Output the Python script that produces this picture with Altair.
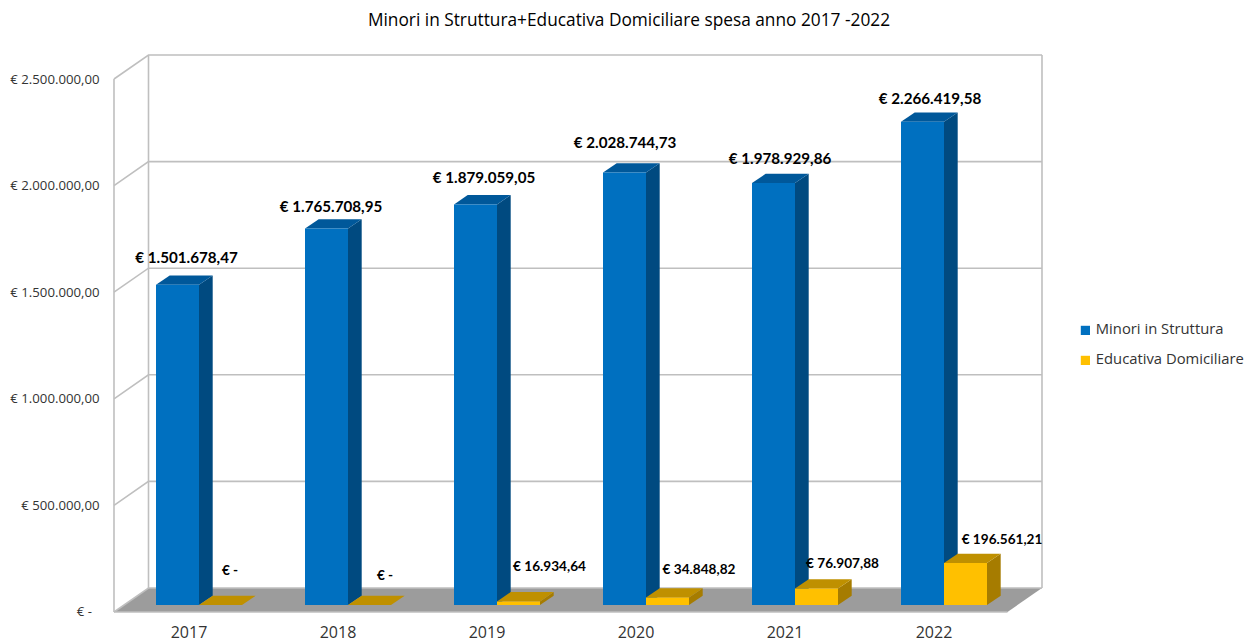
import altair as alt
import pandas as pd

# ---- values
years = ["2017", "2018", "2019", "2020", "2021", "2022"]
minori = [1501678.47, 1765708.95, 1879059.05, 2028744.73, 1978929.86, 2266419.58]
educativa = [0, 0, 16934.64, 34848.82, 76907.88, 196561.21]
minori_labels = ["€ 1.501.678,47", "€ 1.765.708,95", "€ 1.879.059,05",
                 "€ 2.028.744,73", "€ 1.978.929,86", "€ 2.266.419,58"]
educativa_labels = ["€ -", "€ -", "€ 16.934,64", "€ 34.848,82", "€ 76.907,88", "€ 196.561,21"]
y_ticks = [0, 500000, 1000000, 1500000, 2000000, 2500000]
y_tick_labels = ["€ -", "€ 500.000,00", "€ 1.000.000,00",
                 "€ 1.500.000,00", "€ 2.000.000,00", "€ 2.500.000,00"]
series_names = ["Minori in Struttura", "Educativa Domiciliare"]
title_text = "Minori in Struttura+Educativa Domiciliare spesa anno 2017 -2022"

# ---- layout of the fake 3D box (pixels turned into data units)
W, H = 928, 557
STEP = 149.0
PER_PX = 2500000 / 533
def ux(px): return px / STEP
def uy(px): return px * PER_PX
WALL_DX, WALL_DY = ux(34.5), uy(24)
BAR_DX, BAR_DY = ux(13.7), uy(9.3)
BASE = uy(7)
X_MAX, Y_MAX = W / STEP, H * PER_PX
BAR_L, BAR_W = ux(42), ux(43)
# hand-placed data labels in the original (right, up) in pixels
minori_nudge = [(9, 27), (4.5, 21.6), (8.5, 26.4), (0.5, 29.5), (6.5, 24), (7.5, 22.8)]
educ_nudge = [(9.5, 34), (15.5, 29), (31, 34.4), (31.5, 27.6), (26, 24.6), (36.5, 23.1)]

xs = alt.Scale(domain=[0, X_MAX], range=[0, W], nice=False, zero=False)
ys = alt.Scale(domain=[0, Y_MAX], range=[H, 0], nice=False, zero=False)
GRID = "#bfbfbf"
FONT = "Open Sans"

year_expr = "[" + ",".join(f"'{y}'" for y in years) + "][floor(datum.value)]"
# the zero label sits further left in the original, so it gets its own text layer below
ylab_expr = "[''," + ",".join(f"'{t}'" for t in y_tick_labels[1:]) + f"][round(datum.value/{y_ticks[1]})]"
x_axis = alt.Axis(values=[i + 0.5 for i in range(len(years))], labelExpr=year_expr, domain=False, ticks=False,
                  grid=False, labelFontSize=16, labelFont=FONT, labelColor="#333333", labelPadding=12, labelAngle=0)
y_axis = alt.Axis(values=y_ticks, labelExpr=ylab_expr, domain=False, ticks=False, grid=False,
                  labelFontSize=13.2, labelFont=FONT, labelColor="#333333", labelPadding=15)

def X(f="x"): return alt.X(f"{f}:Q", scale=xs, axis=x_axis, title=None)
def Y(f="y"): return alt.Y(f"{f}:Q", scale=ys, axis=y_axis, title=None, stack=None)

# ---- frame
grid_rows = []
for v in y_ticks:
    k = f"g{v}"
    grid_rows += [dict(k=k, x=0, y=v, o=0), dict(k=k, x=WALL_DX, y=v + WALL_DY, o=1), dict(k=k, x=X_MAX, y=v + WALL_DY, o=2)]
for k, x0, y0, y1 in [("l", 0, 0, y_ticks[-1]),
                      ("b", WALL_DX, WALL_DY, y_ticks[-1] + WALL_DY),
                      ("r", X_MAX, WALL_DY, y_ticks[-1] + WALL_DY)]:
    grid_rows += [dict(k=k, x=x0, y=y0, o=0), dict(k=k, x=x0, y=y1, o=1)]
grid_rows += [dict(k="f", x=0, y=0, o=0), dict(k="f", x=X_MAX - WALL_DX, y=0, o=1)]
grid_df = pd.DataFrame(grid_rows)

floor_df = pd.DataFrame([
    dict(x=0, y=0, y2=0),
    dict(x=WALL_DX, y=WALL_DY, y2=0),
    dict(x=X_MAX - WALL_DX, y=WALL_DY, y2=0),
    dict(x=X_MAX, y=WALL_DY, y2=WALL_DY),
])

def area(df, color):
    return alt.Chart(df).mark_area(color=color, orient="vertical", interpolate="linear").encode(
        x=X(), y=Y(), y2="y2:Q")

# ---- bar faces: one side and one top area per bar
def faces(values, shift, side_color, top_color):
    front, layers = [], []
    for i, v in enumerate(values):
        x0 = i + BAR_L + shift
        x1 = x0 + BAR_W
        t = v + BASE
        b = BASE
        front.append(dict(x=x0, x2=x1, y=b, y2=t))
        side = pd.DataFrame([dict(x=x1, y=t, y2=b), dict(x=x1 + BAR_DX, y=t + BAR_DY, y2=b + BAR_DY)])
        top = pd.DataFrame([dict(x=x0, y=t, y2=t), dict(x=x0 + BAR_DX, y=t + BAR_DY, y2=t),
                            dict(x=x1, y=t + BAR_DY, y2=t), dict(x=x1 + BAR_DX, y=t + BAR_DY, y2=t + BAR_DY)])
        layers += [area(side, side_color), area(top, top_color)]
    return pd.DataFrame(front), layers

fa, la = faces(minori, 0, "#004a80", "#00589a")
fb, lb = faces(educativa, BAR_W, "#a67c00", "#bf9000")
fa["s"] = series_names[0]
fb["s"] = series_names[1]
fronts = pd.concat([fa, fb])

grid = alt.Chart(grid_df).mark_line(color=GRID, strokeWidth=1.6).encode(
    x=X(), y=Y(), detail="k:N", order="o:Q")
floor = area(floor_df, "#9c9c9c")

front = alt.Chart(fronts).mark_rect().encode(
    x=X(), x2="x2:Q", y=Y(), y2="y2:Q",
    color=alt.Color("s:N", scale=alt.Scale(domain=series_names, range=["#0070c0", "#ffc000"]),
                    legend=alt.Legend(title=None, orient="none", legendX=964, legendY=268, symbolType="square",
                                      symbolSize=85, symbolStrokeWidth=0, labelFont=FONT, labelFontSize=14.8,
                                      labelColor="#333333", rowPadding=14, labelOffset=3)))

lab_a = pd.DataFrame([dict(x=i + BAR_L + BAR_W / 2 + ux(n[0]), y=v + BASE + uy(n[1]), t=t)
                      for i, (v, t, n) in enumerate(zip(minori, minori_labels, minori_nudge))])
lab_b = pd.DataFrame([dict(x=i + BAR_L + BAR_W * 1.5 + ux(n[0]), y=v + BASE + uy(n[1]), t=t)
                      for i, (v, t, n) in enumerate(zip(educativa, educativa_labels, educ_nudge))])

def labels(df, size):
    return alt.Chart(df).mark_text(font="Lato", fontWeight="bold", fontSize=size, color="#000000",
                                   align="center", baseline="middle").encode(x=X(), y=Y(), text="t:N")

zero_df = pd.DataFrame([dict(x=ux(-22), y=y_ticks[0], t=y_tick_labels[0])])
zero_label = alt.Chart(zero_df).mark_text(font=FONT, fontSize=13.2, color="#333333", align="right",
                                          baseline="middle", clip=False).encode(x=X(), y=Y(), text="t:N")

chart = alt.layer(
    floor, grid, *la, *lb, front,
    labels(lab_a, 15.2), labels(lab_b, 13.6), zero_label,
).properties(
    width=W, height=H,
    title=alt.TitleParams(title_text, font=FONT, fontSize=17.3, fontWeight="normal", color="#000000",
                          anchor="middle", dx=51, offset=23),
    padding={"left": 106, "top": 47, "right": 205, "bottom": 29},
    autosize=alt.AutoSizeParams(type="none"),
).configure_view(stroke=None)

chart.save("out.html", embed_options={"renderer": "svg", "actions": False})
